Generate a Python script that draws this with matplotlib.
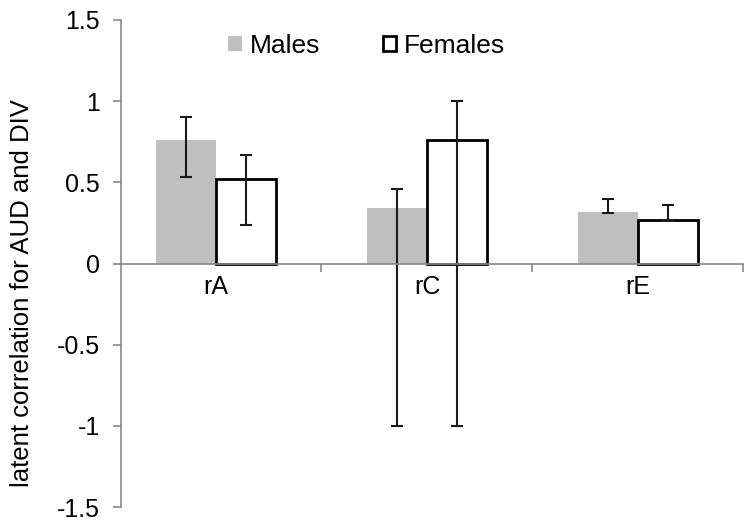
import numpy as np
import matplotlib.pyplot as plt

plt.rcParams['font.family'] = ['Liberation Sans', 'DejaVu Sans']

# values
categories = ['rA', 'rC', 'rE']
males = [0.76, 0.34, 0.32]
males_low = [0.53, -1.0, 0.31]
males_high = [0.90, 0.46, 0.40]
females = [0.52, 0.76, 0.27]
females_low = [0.24, -1.0, 0.27]
females_high = [0.67, 1.0, 0.36]

x = np.arange(len(categories))
w = 0.284

fig = plt.figure(figsize=(7.54, 5.26), dpi=100)
ax = fig.add_axes([0.1605, 0.036, 0.8255, 0.926])

m_err = [np.array(males) - np.array(males_low), np.array(males_high) - np.array(males)]
f_err = [np.array(females) - np.array(females_low), np.array(females_high) - np.array(females)]

ax.bar(x - w / 2, males, w, color='#bfbfbf', label='Males', zorder=2)
ax.bar(x + w / 2, females, w, color='white', edgecolor='black', linewidth=2,
       label='Females', zorder=2)
ax.errorbar(x - w / 2, males, yerr=m_err, fmt='none', ecolor='#1a1a1a',
            elinewidth=1.5, capsize=4.5, capthick=1.5, zorder=3)
ax.errorbar(x + w / 2, females, yerr=f_err, fmt='none', ecolor='#1a1a1a',
            elinewidth=1.5, capsize=4.5, capthick=1.5, zorder=3)

ax.set_ylim(-1.5, 1.5)
ax.set_yticks([-1.5, -1, -0.5, 0, 0.5, 1, 1.5])
ax.set_yticklabels(['-1.5', '-1', '-0.5', '0', '0.5', '1', '1.5'])
ax.set_xlim(-0.45, 2.5)

for s in ['top', 'right']:
    ax.spines[s].set_visible(False)
ax.spines['left'].set_color('#888888')
ax.spines['left'].set_linewidth(1.2)
ax.spines['bottom'].set_position(('data', 0))
ax.spines['bottom'].set_color('#888888')
ax.spines['bottom'].set_linewidth(1.2)
ax.spines['bottom'].set_zorder(4)

ax.set_xticks(x)
ax.set_xticklabels(categories)
ax.set_xticks([0.5, 1.5, 2.5], minor=True)
ax.tick_params(axis='x', which='major', length=0, pad=8, labelsize=18)
ax.tick_params(axis='x', which='minor', length=6, color='#888888', width=1.2, direction='out')
ax.tick_params(axis='y', length=6, color='#888888', width=1.2, labelsize=18, pad=9)

ax.set_ylabel('latent correlation for AUD and DIV', fontsize=18.5)
ax.yaxis.set_label_coords(-0.14, 0.44)

ax.legend(loc='upper center', bbox_to_anchor=(0.395, 1.02), ncol=2, frameon=False,
          fontsize=19, handlelength=0.5, handleheight=0.5, handletextpad=0.3,
          columnspacing=2.4)

fig.savefig('out.png', dpi=100)
